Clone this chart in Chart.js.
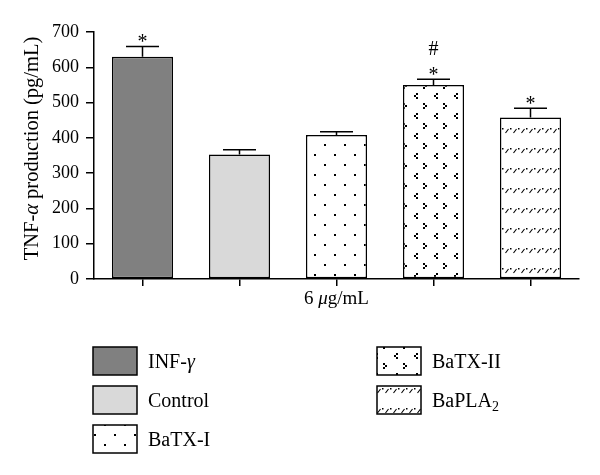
<!DOCTYPE html>
<html><head><meta charset="utf-8">
<script src="https://cdn.jsdelivr.net/npm/chart.js@4.4.0/dist/chart.umd.min.js"></script>
<style>html,body{margin:0;padding:0;background:#fff}#wrap{width:600px;height:475px}</style>
</head><body><div id="wrap"><canvas id="c" width="600" height="475"></canvas></div>
<script>
// ---- data ----
const categories = ['INF-γ', 'Control', 'BaTX-I', 'BaTX-II', 'BaPLA2'];
const values = [630, 353, 408, 550, 458];
const errors = [29, 13, 9, 16, 26];
const marks = [['*'], [], [], ['*', '#'], ['*']];
const yTicks = [0, 100, 200, 300, 400, 500, 600, 700];
const yTitle = 'TNF-α production (pg/mL)';
const xTitle = '6 μg/mL';
const legendColumns = [[0, 1, 2], [3, 4]];

// ---- styles ----
const FONT = '"Liberation Serif", "Times New Roman", serif';
const canvas = document.getElementById('c');
const ctx0 = canvas.getContext('2d');
function tile(w, h, draw) {
  const c = document.createElement('canvas'); c.width = w; c.height = h;
  const g = c.getContext('2d'); g.fillStyle = '#fff'; g.fillRect(0, 0, w, h);
  g.fillStyle = '#000'; g.strokeStyle = '#000'; draw(g); return ctx0.createPattern(c, 'repeat');
}
const pDots = tile(20, 20, g => { g.fillRect(4, 4, 2, 2); g.fillRect(14, 14, 2, 2); });
const pChev = tile(20, 20, g => {
  g.fillRect(3, 3, 2, 2); g.fillRect(5, 5, 2, 2); g.fillRect(3, 7, 2, 2);
  g.fillRect(16, 13, 2, 2); g.fillRect(14, 15, 2, 2); g.fillRect(16, 17, 2, 2);
});
const pDash = tile(8, 20, g => {
  g.lineWidth = 1.1; g.beginPath(); g.moveTo(1.5, 13); g.lineTo(4.5, 9); g.stroke();
  g.fillRect(6, 8, 1.5, 1.5);
});
const fills = ['#808080', '#d9d9d9', pDots, pChev, pDash];

function segs(text) {
  const out = [];
  const m = text.match(/^(.*[A-Za-z])(\d)$/);
  let main = m ? m[1] : text;
  for (const ch of main) {
    const it = /[\u0370-\u03FF]/.test(ch);
    const last = out[out.length - 1];
    if (last && last.it === it && !last.sub) last.t += ch; else out.push({ t: ch, it, sub: false });
  }
  if (m) out.push({ t: m[2], it: false, sub: true });
  return out;
}
function fontFor(s, size) { return (s.it ? 'italic ' : '') + (s.sub ? Math.round(size * 0.7) : size) + 'px ' + FONT; }
function drawRich(ctx, text, x, y, size, align) {
  const ss = segs(text);
  let w = 0; ss.forEach(s => { ctx.font = fontFor(s, size); s.w = ctx.measureText(s.t).width; w += s.w; });
  let cx = align === 'center' ? x - w / 2 : x;
  ctx.textAlign = 'left'; ctx.textBaseline = 'alphabetic';
  const base = y + size * 0.33;
  ss.forEach(s => { ctx.font = fontFor(s, size); ctx.fillText(s.t, cx, base + (s.sub ? size * 0.2 : 0)); cx += s.w; });
}

const deco = {
  id: 'deco',
  afterDatasetsDraw(chart) {
    const { ctx, scales: { y } } = chart;
    const meta = chart.getDatasetMeta(0);
    ctx.save();
    ctx.strokeStyle = '#000'; ctx.fillStyle = '#000'; ctx.lineWidth = 1.5;
    meta.data.forEach((bar, i) => {
      const yb = y.getPixelForValue(values[i]);
      const yt = y.getPixelForValue(values[i] + errors[i]);
      const half = bar.width * 0.27;
      ctx.beginPath();
      ctx.moveTo(bar.x, yb); ctx.lineTo(bar.x, yt);
      ctx.moveTo(bar.x - half, yt); ctx.lineTo(bar.x + half, yt);
      ctx.stroke();
      ctx.font = '20px ' + FONT; ctx.textAlign = 'center'; ctx.textBaseline = 'alphabetic';
      marks[i].forEach((m, k) => {
        const mt = ctx.measureText(m);
        const c = yt - 8 - k * 23;
        ctx.fillText(m, bar.x, c + (mt.actualBoundingBoxAscent - mt.actualBoundingBoxDescent) / 2);
      });
    });
    ctx.restore();
  },
  afterDraw(chart) {
    const { ctx, chartArea: a } = chart;
    ctx.save(); ctx.fillStyle = '#000';
    drawRich(ctx, xTitle, (a.left + a.right) / 2, a.bottom + 19, 19, 'center');
    ctx.save(); ctx.translate(31, (a.top + a.bottom) / 2 - 7); ctx.rotate(-Math.PI / 2);
    drawRich(ctx, yTitle, 0, 0, 20.5, 'center'); ctx.restore();
    const colX = [93, 377], y0 = 347, step = 39, bw = 44, bh = 28;
    legendColumns.forEach((col, ci) => col.forEach((idx, ri) => {
      const bx = colX[ci], by = y0 + ri * step;
      ctx.fillStyle = fills[idx]; ctx.fillRect(bx, by, bw, bh);
      ctx.strokeStyle = '#000'; ctx.lineWidth = 1.5; ctx.strokeRect(bx, by, bw, bh);
      ctx.fillStyle = '#000';
      drawRich(ctx, categories[idx], bx + 55, by + bh / 2, 20, 'left');
    }));
    ctx.restore();
  }
};

new Chart(canvas, {
  type: 'bar',
  data: { labels: categories, datasets: [{
    data: values, backgroundColor: fills, borderColor: '#000', borderWidth: 1.5,
    borderSkipped: false, categoryPercentage: 1, barPercentage: 0.63
  }] },
  options: {
    responsive: false, animation: false, devicePixelRatio: 1,
    layout: { padding: { left: 12, right: 21, top: 32, bottom: 167 } },
    plugins: { legend: { display: false }, tooltip: { enabled: false } },
    scales: {
      x: {
        grid: { drawOnChartArea: false, offset: false, tickLength: 7, color: '#000', lineWidth: 1.5 },
        border: { color: '#000', width: 1.5 },
        ticks: { display: false },
        afterFit(s) { s.height = 29; }
      },
      y: {
        min: 0, max: 700,
        afterBuildTicks(s) { s.ticks = yTicks.map(v => ({ value: v })); },
        grid: { drawOnChartArea: false, tickLength: 8, color: '#000', lineWidth: 1.5 },
        border: { color: '#000', width: 1.5 },
        ticks: { color: '#000', padding: 7, font: { family: FONT, size: 18 } },
        afterFit(s) { s.width = 82; }
      }
    }
  },
  plugins: [deco]
});
</script></body></html>
